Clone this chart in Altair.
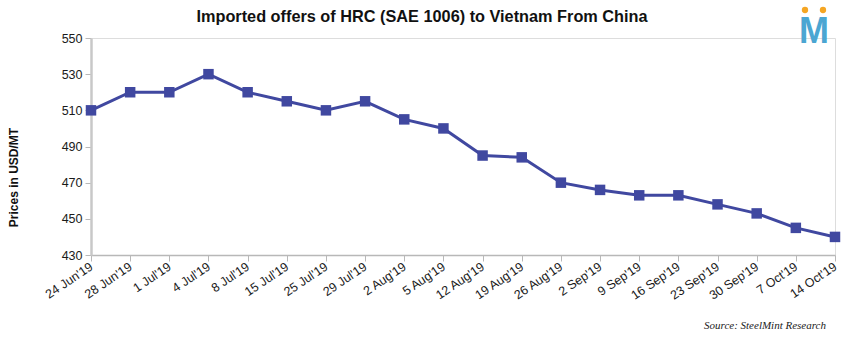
import altair as alt
import pandas as pd

dates = ["24 Jun'19", "28 Jun'19", "1 Jul'19", "4 Jul'19", "8 Jul'19", "15 Jul'19",
         "25 Jul'19", "29 Jul'19", "2 Aug'19", "5 Aug'19", "12 Aug'19", "19 Aug'19",
         "26 Aug'19", "2 Sep'19", "9 Sep'19", "16 Sep'19", "23 Sep'19", "30 Sep'19",
         "7 Oct'19", "14 Oct'19"]
prices = [510, 520, 520, 530, 520, 515, 510, 515, 505, 500, 485, 484,
          470, 466, 463, 463, 458, 453, 445, 440]
y_ticks = [430, 450, 470, 490, 510, 530, 550]

title_text = "Imported offers of HRC (SAE 1006) to Vietnam From China"
y_title = "Prices in USD/MT"
source_text = "Source: SteelMint Research"

df = pd.DataFrame({"date": dates, "price": prices})

W, H = 744, 217
LINE = "#4048A0"

x_enc = alt.X("date:N", sort=dates, scale=alt.Scale(type="point", padding=0),
              axis=alt.Axis(title=None, labelAngle=326, labelAlign="right", labelBaseline="middle",
                            labelPadding=4, labelFont="Liberation Sans", labelFontSize=12.5,
                            labelColor="#1a1a1a", domainColor="#b8b8b8", domainWidth=1.5,
                            tickColor="#b8b8b8", tickSize=6, tickWidth=1, grid=False,
                            labelOverlap=False, labelBound=False))
y_enc = alt.Y("price:Q", scale=alt.Scale(domain=[430, 550], nice=False, zero=False),
              axis=alt.Axis(values=y_ticks, title=y_title, titleFont="Liberation Sans",
                            titleFontSize=12, titleFontWeight="bold", titleColor="#111",
                            titleX=-78, titleY=139, titleAngle=270, titleAlign="center",
                            titleBaseline="middle", labelOverlap=False, labelBound=False,
                            labelFont="Liberation Sans", labelFontSize=12.5, labelColor="#1a1a1a",
                            labelPadding=3, domainColor="#c8c8c8", domainWidth=2.5,
                            tickColor="#b8b8b8", tickSize=6, grid=False))

line = alt.Chart(df).mark_line(color=LINE, strokeWidth=3).encode(x=x_enc, y=y_enc)
pts = alt.Chart(df).mark_square(color=LINE, size=110, opacity=1).encode(x=x_enc, y=y_enc)

one = pd.DataFrame({"t": [""]})

title = alt.Chart(one).mark_text(text=title_text, font="Liberation Sans", fontSize=16.3, fontWeight="bold",
                                  color="#111", align="center", baseline="alphabetic").encode(
    x=alt.value(422 - 91), y=alt.value(22 - 38))
logo_m = alt.Chart(one).mark_text(text="M", font="Liberation Sans", fontSize=36, fontWeight="bold",
                                   color="#4BA6D2", align="center", baseline="alphabetic").encode(
    x=alt.value(814 - 91), y=alt.value(43 - 38))
dots = alt.Chart(pd.DataFrame({"dx": [805 - 91, 823 - 91]})).mark_circle(color="#F5A623", size=40, opacity=1).encode(
    x=alt.X("dx:Q", scale=None), y=alt.value(10 - 38))
source = alt.Chart(one).mark_text(text=source_text, font="Liberation Serif", fontSize=11, fontStyle="italic",
                                   color="#222", align="right", baseline="alphabetic").encode(
    x=alt.value(826 - 91), y=alt.value(329 - 38))

chart = alt.layer(line, pts, title, logo_m, dots, source).properties(
    width=W, height=H,
    autosize=alt.AutoSizeParams(type="none"),
    padding={"left": 91, "top": 38, "right": 14, "bottom": 83},
).configure_view(stroke=None).configure(background="white")

chart.save("out.html", embed_options={"renderer": "svg", "actions": False})
